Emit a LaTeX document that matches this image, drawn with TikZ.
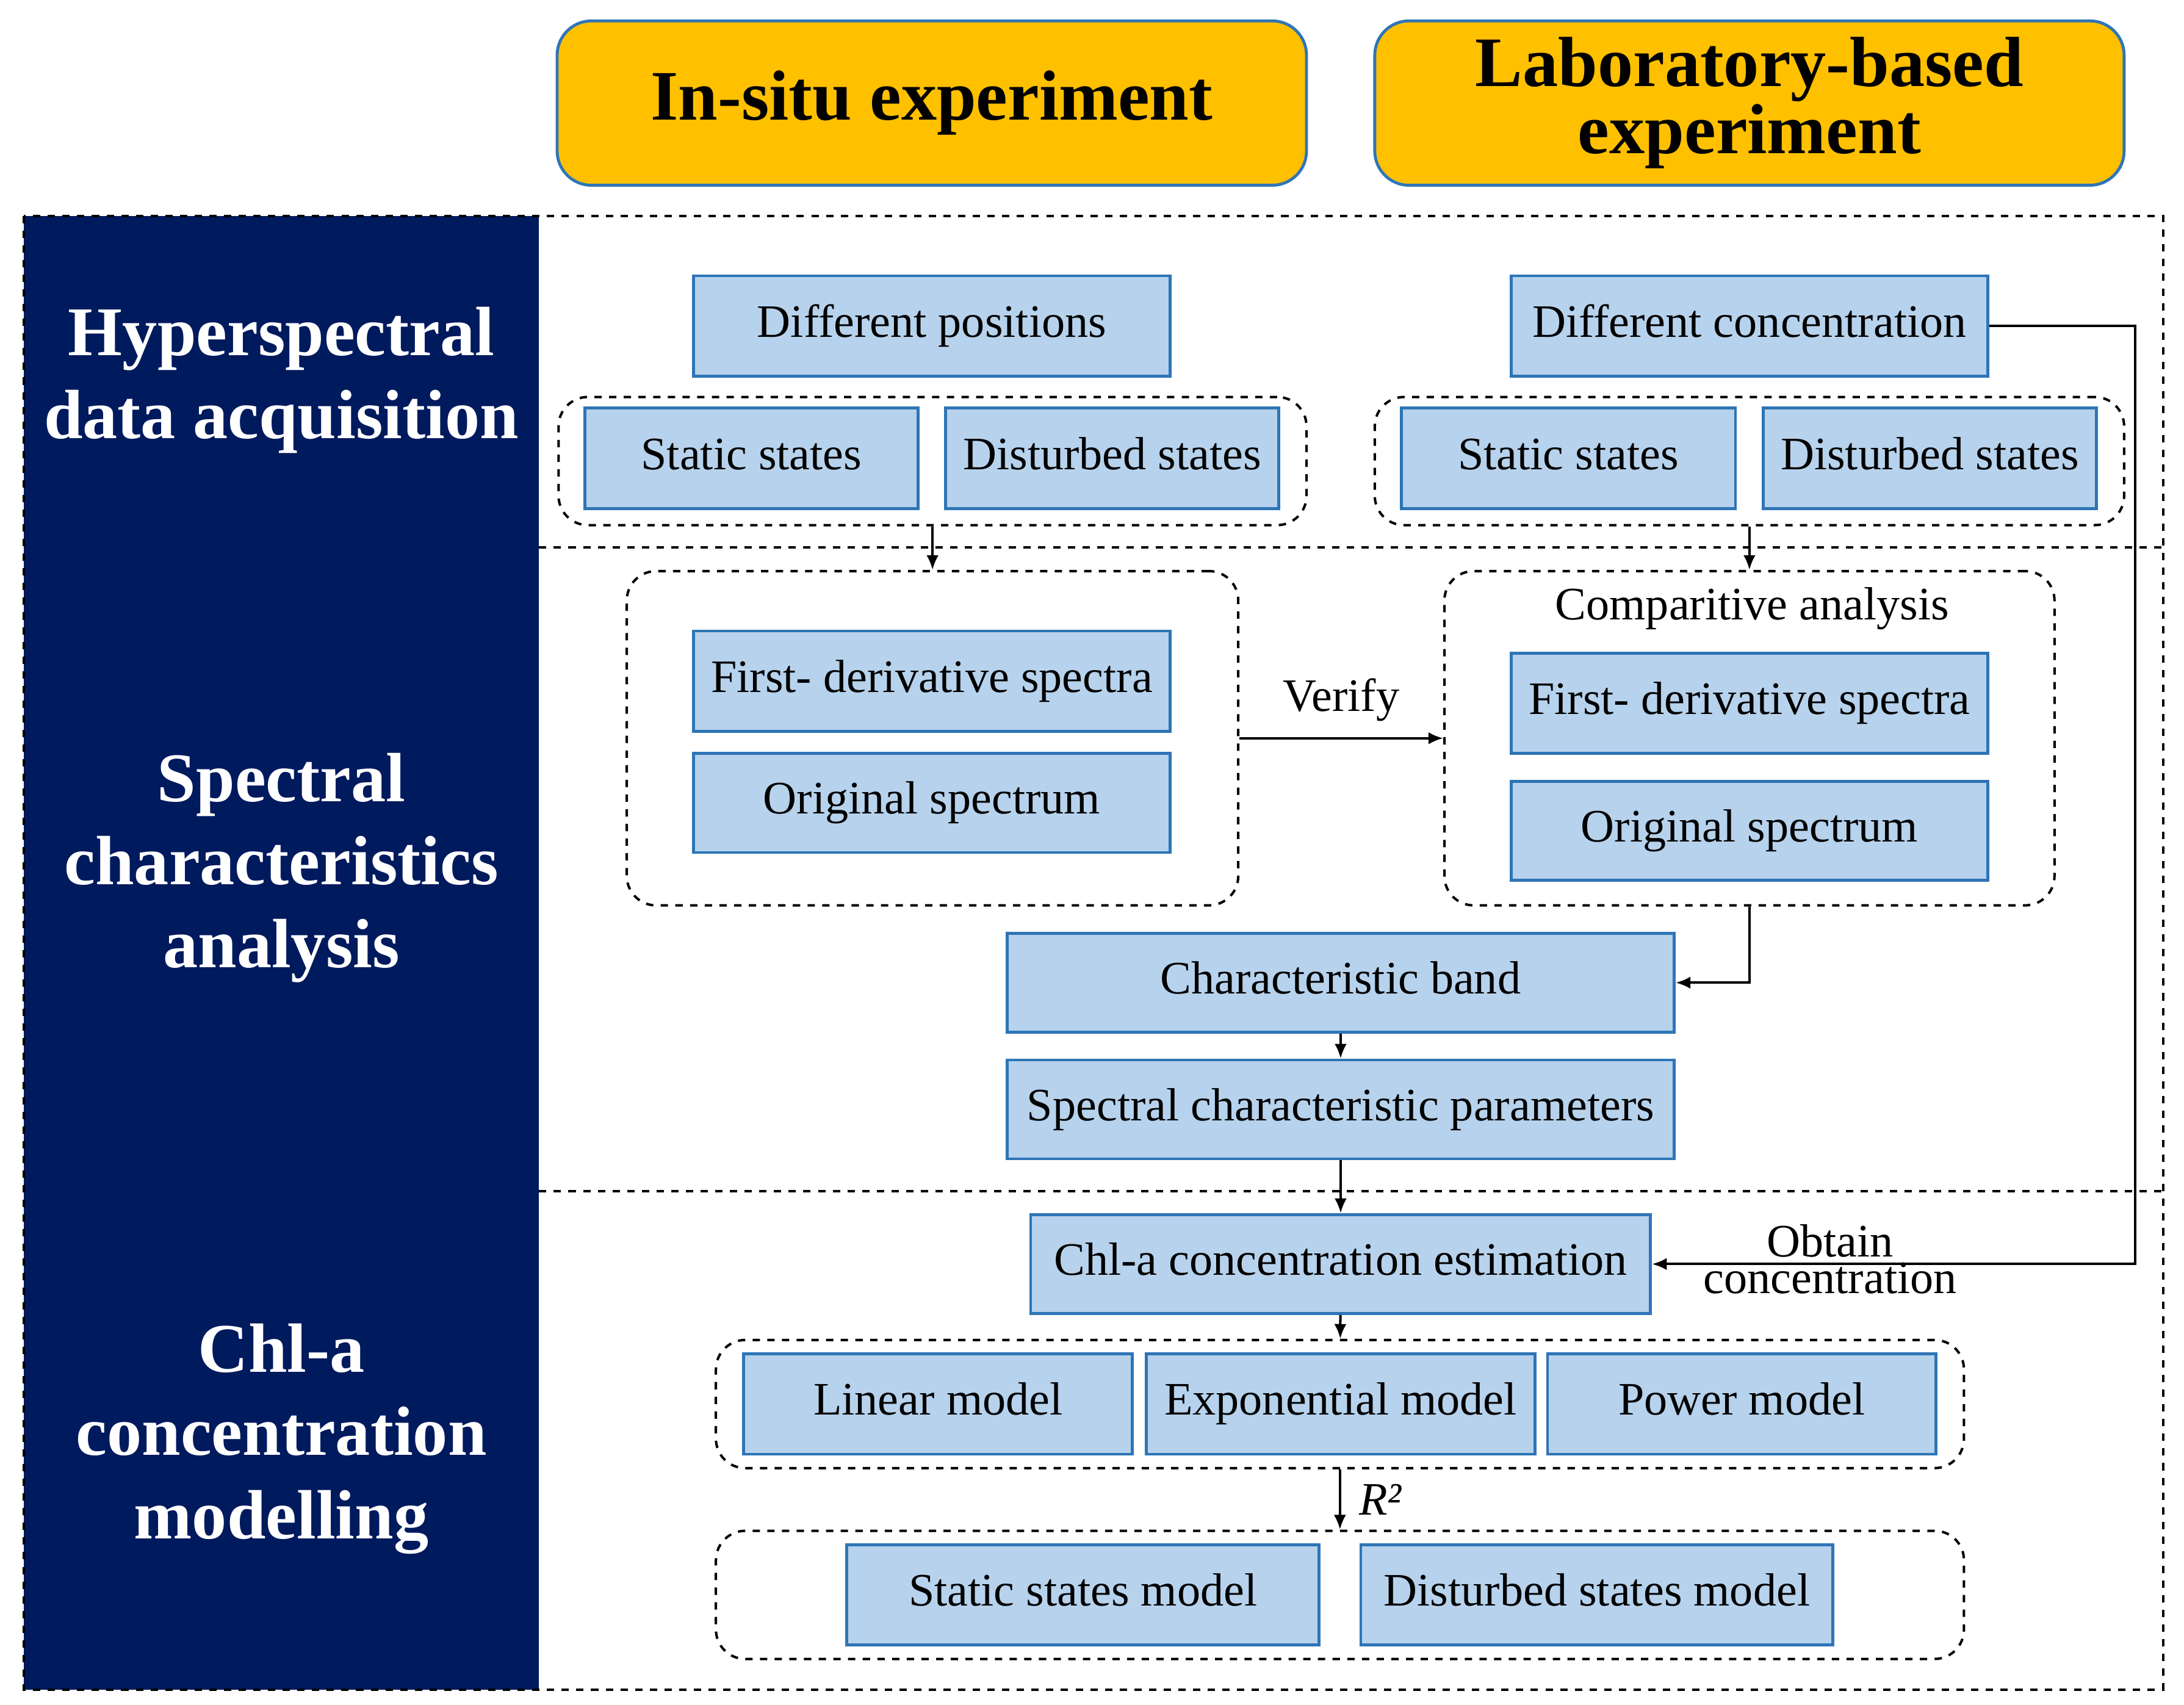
\documentclass[tikz,border=0pt]{standalone}
\usepackage{fontspec}
\setmainfont{Liberation Serif}
\usetikzlibrary{arrows.meta}
\definecolor{navy}{RGB}{0,26,94}
\definecolor{gold}{RGB}{255,192,0}
\definecolor{bfill}{RGB}{183,210,236}
\definecolor{bdraw}{RGB}{46,117,182}
\tikzset{
 box/.style={draw=bdraw,line width=1.2pt,fill=bfill,inner sep=0pt,text height=13pt,text depth=4pt,font=\fontsize{19}{21}\selectfont},
 grp/.style={draw,dashed,line width=1pt,rounded corners=12pt,inner sep=0pt},
 hdr/.style={draw=bdraw,line width=1.2pt,fill=gold,rounded corners=14pt,inner sep=0pt,align=center,font=\bfseries\fontsize{29}{24}\selectfont},
 side/.style={text=white,align=center,font=\bfseries\fontsize{28.5}{34}\selectfont},
 arr/.style={-{Latex[length=6pt,width=5pt]},line width=1pt},
 lbl/.style={font=\fontsize{19}{16}\selectfont,align=center}
}
\newcommand\B[7][box]{\node[#1,minimum width={(#5-#3)*0.02cm},minimum height={(#6-#4)*0.02cm}] (#2) at ({(#3+#5)/2},{(#4+#6)/2}) {#7};}
\begin{document}
\begin{tikzpicture}[x=0.02cm,y=-0.02cm]
\useasboundingbox (0,0) rectangle (1568,1224);
\fill[navy] (17,155) rectangle (387,1213);
\draw[dashed,line width=1pt] (17,155) rectangle (1553,1213);
\draw[dashed,line width=1pt] (387,393) -- (1553,393);
\draw[dashed,line width=1pt] (387,855) -- (1553,855);
\node[side] (s1) at (202,273) {Hyperspectral\\data acquisition};
\node[side] (s2) at (202,623) {Spectral\\characteristics\\analysis};
\node[side] (s3) at (202,1033) {Chl-a\\concentration\\modelling};
\B[hdr]{h1}{400}{15}{938}{133}{In-situ experiment}
\B[hdr]{h2}{987}{15}{1525}{133}{Laboratory-based\\experiment}
\B{dp}{498}{198}{840}{270}{Different positions}
\B{dc}{1085}{198}{1427}{270}{Different concentration}
\B[grp]{g1}{401}{285}{938}{377}{}
\B[grp]{g2}{987}{285}{1525}{377}{}
\B{ss1}{420}{293}{659}{365}{Static states}
\B{ds1}{679}{293}{918}{365}{Disturbed states}
\B{ss2}{1006}{293}{1246}{365}{Static states}
\B{ds2}{1266}{293}{1505}{365}{Disturbed states}
\B[grp]{g3}{450}{410}{889}{650}{}
\B[grp]{g4}{1037}{410}{1475}{650}{}
\node[lbl] (ca) at (1258,437) {Comparitive analysis};
\B{fd1}{498}{453}{840}{525}{First- derivative spectra}
\B{os1}{498}{541}{840}{612}{Original spectrum}
\B{fd2}{1085}{469}{1427}{541}{First- derivative spectra}
\B{os2}{1085}{561}{1427}{632}{Original spectrum}
\B{cb}{723}{670}{1202}{741}{Characteristic band}
\B{scp}{723}{761}{1202}{832}{Spectral characteristic parameters}
\B{est}{740}{872}{1185}{943}{Chl-a concentration estimation}
\B[grp]{g5}{514}{962}{1410}{1054}{}
\B{lm}{534}{972}{813}{1044}{Linear model}
\B{em}{823}{972}{1102}{1044}{Exponential model}
\B{pm}{1111}{972}{1390}{1044}{Power model}
\B[grp]{g6}{514}{1099}{1410}{1191}{}
\B{ssm}{608}{1109}{947}{1181}{Static states model}
\B{dsm}{977}{1109}{1316}{1181}{Disturbed states model}
\draw[arr] (g1.south) -- (g3.north);
\draw[arr] (g2.south) -- (g4.north);
\draw[arr] (g3.east) -- node[lbl,above=3pt] {Verify} (g4.west);
\draw[arr] (g4.south) |- (cb.east);
\draw[arr] (cb) -- (scp);
\draw[arr] (scp) -- (est);
\draw[arr] (est) -- (g5);
\draw[arr] (g5) -- node[lbl,right=4pt,font=\itshape\fontsize{19}{16}\selectfont] {R²} (g6);
\coordinate (c1) at (1533,234);
\draw[arr] (dc.east) -- (c1) |- (est.east);
\node[lbl,font=\fontsize{19}{15}\selectfont] (oc) at (1314,904) {Obtain\\concentration};
\end{tikzpicture}
\end{document}
